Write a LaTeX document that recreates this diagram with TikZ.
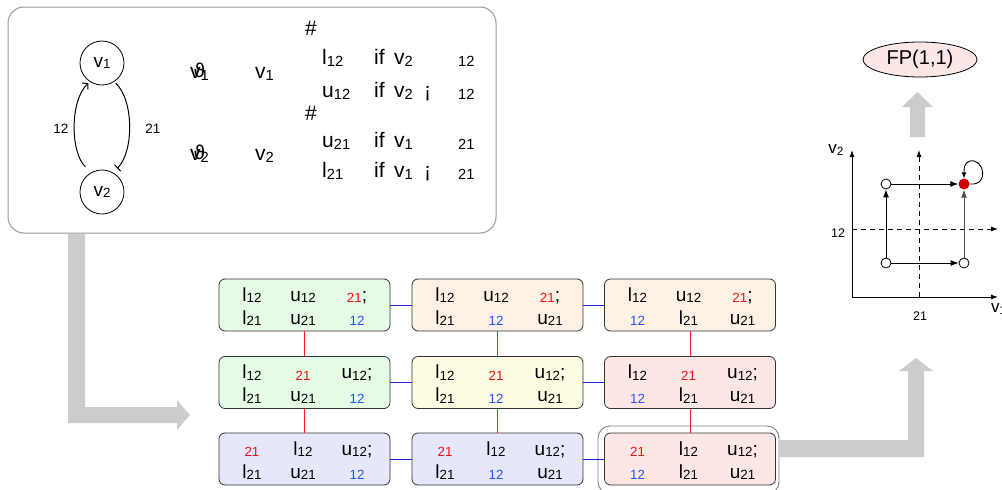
\documentclass[tikz,border=0pt]{standalone}
\usepackage{fontspec}
\setmainfont{Liberation Sans}
\newfontfamily\dvfont{DejaVu Sans}
\usetikzlibrary{arrows.meta,shapes.geometric}
\definecolor{tred}{HTML}{EE1111}
\definecolor{tblue}{HTML}{2255EE}
\definecolor{lred}{HTML}{FF2020}
\definecolor{lblue}{HTML}{2020E0}
\definecolor{gfill}{HTML}{E6FBE6}
\definecolor{ofill}{HTML}{FEF1E5}
\definecolor{yfill}{HTML}{FEFCE2}
\definecolor{pfill}{HTML}{FDE6E6}
\definecolor{bfill}{HTML}{E6E7FB}
\definecolor{agray}{HTML}{CCCCCC}
\newcommand\fsz[1]{\fontsize{#1}{#1}\selectfont}
\makeatletter
\newcommand\sbs[1]{\raisebox{-0.1em}{\edef\tmpS{\strip@pt\dimexpr 0.7\dimexpr\f@size pt\relax\relax}\fontsize{\tmpS}{\tmpS}\selectfont #1}}
\makeatother
\newcommand\xLa{l\sbs{12}}
\newcommand\xUa{u\sbs{12}}
\newcommand\xLb{l\sbs{21}}
\newcommand\xUb{u\sbs{21}}
\newcommand\xR{{\color{tred}\sbs{21}}}
\newcommand\xB{{\color{tblue}\sbs{12}}}
\newcommand\vdotx[1]{\makebox[0pt][l]{v}\kern3.5pt\makebox[0pt][l]{\raisebox{1pt}{\dvfont\fsz{19}ϑ}}\kern7pt\sbs{#1}}
\newcommand\cellbox[4]{\node[cellbox,fill=#4] (#1) at (#2,#3) {};}
\newcommand\celltext[7]{%
  \node[celltxt] (#1-a) at ([xshift=-52.5pt,yshift=4pt]#1.center) {#2};
  \node[celltxt] (#1-b) at ([xshift=-1.5pt,yshift=4pt]#1.center) {#3};
  \node[celltxt] (#1-c) at ([xshift=52.5pt,yshift=4pt]#1.center) {#4};
  \node[celltxt] (#1-d) at ([xshift=-52.5pt,yshift=-19pt]#1.center) {#5};
  \node[celltxt] (#1-e) at ([xshift=-1.5pt,yshift=-19pt]#1.center) {#6};
  \node[celltxt] (#1-f) at ([xshift=52.5pt,yshift=-19pt]#1.center) {#7};}
\tikzset{
  cellbox/.style={draw=black!80, line width=0.8pt, rounded corners=6pt, minimum width=171pt, minimum height=52pt, inner sep=0pt},
  celltxt/.style={anchor=base, inner sep=0pt, font=\fsz{19}},
  eqtxt/.style={anchor=base west, inner sep=0pt, font=\fsz{21}},
  vnode/.style={circle, draw, line width=0.8pt, minimum size=44pt, inner sep=0pt, font=\fsz{19}},
  smalllbl/.style={inner sep=0pt, font=\fsz{13.5}},
  bluel/.style={lblue, line width=1pt},
  redl/.style={lred, line width=1pt},
  axis/.style={line width=0.9pt, -{Latex[length=7pt,width=5pt]}},
  dashaxis/.style={line width=0.9pt, dashed, dash pattern=on 5pt off 4pt, -{Latex[length=7pt,width=5pt]}},
  parrow/.style={line width=1pt, -{Latex[length=8pt,width=6pt]}},
  opent/.style={circle, draw, fill=white, line width=0.8pt, minimum size=10pt, inner sep=0pt},
  redpt/.style={circle, fill=red!80!black, minimum size=11pt, inner sep=0pt},
}
\begin{document}
\begin{tikzpicture}[x=1pt,y=-1pt]
\useasboundingbox (0,0) rectangle (1002,490);
% top box
\draw[black!40, line width=1pt, rounded corners=16pt] (8,7) rectangle (496,233);
\node[vnode] (v1) at (102,63) {v\sbs{1}};
\node[vnode] (v2) at (102,192) {v\sbs{2}};
\draw[line width=1pt, -{Straight Barb[length=4pt,width=9pt]}, shorten <=8pt, shorten >=2pt] (v2.119) .. controls (70,152) and (70,100) .. (v1.237);
\draw[line width=1pt, -{Bar[width=9pt]}, shorten <=2pt, shorten >=6pt] (v1.303) .. controls (134,100) and (134,152) .. (v2.61);
\node[smalllbl] (k12) at (61,129) {12};
\node[smalllbl] (k21) at (153,129) {21};
% equations
\node[eqtxt] (e1) at (190,78) {\vdotx{1}};
\node[eqtxt] (e2) at (255,78) {v\sbs{1}};
\node[eqtxt] (h1) at (305,35) {\#};
\node[eqtxt] (e3) at (322,64) {l\sbs{12}};
\node[eqtxt] (e4) at (374,64) {if};
\node[eqtxt] (e5) at (394,64) {v\sbs{2}};
\node[eqtxt] (e6) at (458,64) {\sbs{12}};
\node[eqtxt] (e7) at (322,97) {u\sbs{12}};
\node[eqtxt] (e8) at (374,97) {if};
\node[eqtxt] (e9) at (394,97) {v\sbs{2}};
\node[eqtxt] (e10) at (424,97) {¡};
\node[eqtxt] (e11) at (458,97) {\sbs{12}};
\node[eqtxt] (h2) at (305,120) {\#};
\node[eqtxt] (e12) at (322,147) {u\sbs{21}};
\node[eqtxt] (e13) at (374,147) {if};
\node[eqtxt] (e14) at (394,147) {v\sbs{1}};
\node[eqtxt] (e15) at (458,147) {\sbs{21}};
\node[eqtxt] (e16) at (322,177) {l\sbs{21}};
\node[eqtxt] (e17) at (374,177) {if};
\node[eqtxt] (e18) at (394,177) {v\sbs{1}};
\node[eqtxt] (e19) at (424,177) {¡};
\node[eqtxt] (e20) at (458,177) {\sbs{21}};
\node[eqtxt] (e21) at (190,160) {\vdotx{2}};
\node[eqtxt] (e22) at (255,160) {v\sbs{2}};
% gray arrows
\fill[agray] (68,234) -- (85,234) -- (85,407) -- (177,407) -- (177,400) -- (190,415) -- (177,430) -- (177,423) -- (68,423) -- cycle;
\fill[agray] (780,440) -- (908,440) -- (908,371) -- (899,371) -- (916,358) -- (933,371) -- (924,371) -- (924,457) -- (780,457) -- cycle;
\fill[agray] (910,137) -- (910,107) -- (902,107) -- (917.5,92) -- (933,107) -- (925,107) -- (925,137) -- cycle;
% grid of cells
\cellbox{c11}{304.5}{305}{gfill}
\cellbox{c12}{497.5}{305}{ofill}
\cellbox{c13}{690}{305}{ofill}
\cellbox{c21}{304.5}{382.5}{gfill}
\cellbox{c22}{497.5}{382.5}{yfill}
\cellbox{c23}{690}{382.5}{pfill}
\cellbox{c31}{304.5}{459}{bfill}
\cellbox{c32}{497.5}{459}{bfill}
\cellbox{c33}{690}{459}{pfill}
\draw[black!50, line width=0.9pt, rounded corners=12pt] (598,426) rectangle (779,494);
\draw[bluel] (c11) -- (c12); \draw[bluel] (c12) -- (c13);
\draw[bluel] (c21) -- (c22); \draw[bluel] (c22) -- (c23);
\draw[bluel] (c31) -- (c32); \draw[bluel] (c32) -- (c33);
\draw[redl] (c11) -- (c21); \draw[redl] (c21) -- (c31);
\draw[redl] (c12) -- (c22); \draw[redl] (c22) -- (c32);
\draw[redl] (c13) -- (c23); \draw[redl] (c23) -- (c33);
\celltext{c11}{\xLa}{\xUa}{\xR;}{\xLb}{\xUb}{\xB}
\celltext{c12}{\xLa}{\xUa}{\xR;}{\xLb}{\xB}{\xUb}
\celltext{c13}{\xLa}{\xUa}{\xR;}{\xB}{\xLb}{\xUb}
\celltext{c21}{\xLa}{\xR}{\xUa;}{\xLb}{\xUb}{\xB}
\celltext{c22}{\xLa}{\xR}{\xUa;}{\xLb}{\xB}{\xUb}
\celltext{c23}{\xLa}{\xR}{\xUa;}{\xB}{\xLb}{\xUb}
\celltext{c31}{\xR}{\xLa}{\xUa;}{\xLb}{\xUb}{\xB}
\celltext{c32}{\xR}{\xLa}{\xUa;}{\xLb}{\xB}{\xUb}
\celltext{c33}{\xR}{\xLa}{\xUa;}{\xB}{\xLb}{\xUb}
% FP ellipse
\node[ellipse, draw, line width=0.8pt, fill=pfill, minimum width=114pt, minimum height=35pt, inner sep=0pt, font=\fsz{20}] (fp) at (920,59.5) {FP(1,1)};
% plot
\coordinate (O) at (852,297);
\coordinate (ytip) at (852,150);
\coordinate (xtip) at (998,297);
\coordinate (dvb) at (919,297);
\coordinate (dvt) at (919,150);
\coordinate (dhl) at (852,229);
\coordinate (dhr) at (998,229);
\draw[axis] (O) -- (ytip);
\draw[axis] (O) -- (xtip);
\draw[dashaxis] (dvb) -- (dvt);
\draw[dashaxis] (dhl) -- (dhr);
\node[inner sep=0pt, font=\fsz{17}] (ylab) at (836,150) {v\sbs{2}};
\node[inner sep=0pt, font=\fsz{17}, anchor=west] (xlab) at (991,309) {v\sbs{1}};
\node[inner sep=0pt, font=\fsz{12.5}] (t12) at (838,233) {12};
\node[inner sep=0pt, font=\fsz{12.5}] (t21) at (920,316) {21};
\node[opent] (p00) at (886,263) {};
\node[opent] (p01) at (886,184) {};
\node[opent] (p10) at (964,263) {};
\node[redpt] (p11) at (964,184) {};
\draw[parrow] (p00) -- (p01);
\draw[parrow] (p01) -- (p11);
\draw[parrow] (p00) -- (p10);
\draw[parrow, black!70] (p10) -- (p11);
\draw[line width=0.9pt, -{Latex[length=6pt,width=5pt]}] (p11.east) .. controls (990,186) and (984,158) .. (970,161) .. controls (964,163) and (964,168) .. (p11.north);
\end{tikzpicture}
\end{document}
